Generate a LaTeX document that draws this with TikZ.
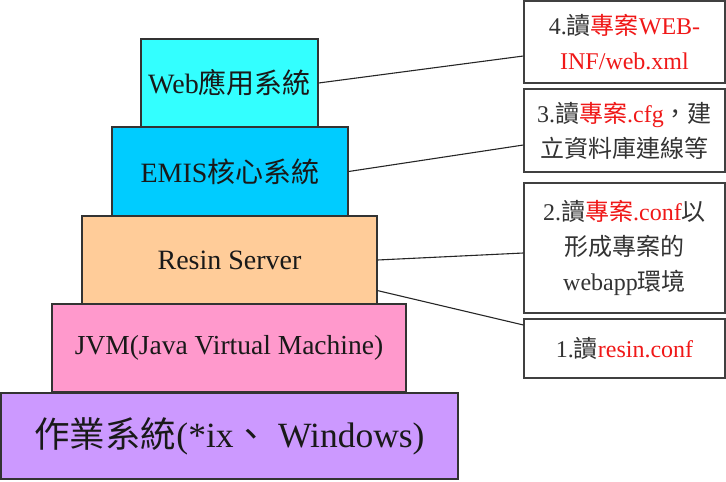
\documentclass[tikz,border=0pt]{standalone}
\usepackage{fontspec}
\setmainfont{Liberation Serif}
\newfontfamily\cjk{Noto Sans CJK TC}
\usetikzlibrary{calc}
\definecolor{webCyan}{HTML}{33FFFF}
\definecolor{emisBlue}{HTML}{00CCFF}
\definecolor{resinTan}{HTML}{FFCC99}
\definecolor{jvmPink}{HTML}{FF99CC}
\definecolor{osPurple}{HTML}{CC99FF}
\definecolor{fileRed}{HTML}{F01818}
\newcommand{\zh}[1]{{\cjk #1}}
\newcommand{\hl}[1]{\textcolor{fileRed}{#1}}
\tikzstyle{link} = [line width=1.1pt, draw=black!85]

\begin{document}
\begin{tikzpicture}[x=1pt, y=-1pt,
    layer/.style={rectangle, draw=black!80, line width=1.2pt, fill=#1, inner sep=0pt, minimum height=88pt, font=\fontsize{28}{30}\selectfont, text=black!90},
    note/.style={rectangle, draw=black!75, line width=1.2pt, fill=white, inner sep=0pt, minimum width=201pt, align=center, font=\fontsize{24}{35}\selectfont, text=black!80}]
\useasboundingbox (0,0) rectangle (726,482);

\node[layer=webCyan, minimum width=177pt] (web) at (229.5, 83) {Web\zh{應用系統}};
\node[layer=emisBlue, minimum width=236pt, minimum height=89pt] (emis) at (230, 171.5) {EMIS\zh{核心系統}};
\node[layer=resinTan, minimum width=295pt] (resin) at (229.5, 260) {Resin Server};
\node[layer=jvmPink, minimum width=354pt] (jvm) at (229, 348) {\fontsize{27.5}{30}\selectfont JVM(Java Virtual Machine)};
\node[layer=osPurple, minimum width=457pt, minimum height=86pt, font=\fontsize{35.5}{38}\selectfont] (os) at (229.5, 436) {\zh{作業系統}(*ix\zh{、} Windows)};

\node[note, minimum height=82pt] (read4) at (624.5, 42) {4.\zh{讀}\hl{\zh{專案}WEB-}\\\hl{INF/web.xml}};
\node[note, minimum height=83pt] (read3) at (624.5, 130.5) {3.\zh{讀}\hl{\zh{專案}.cfg}\zh{，建}\\\zh{立資料庫連線等}};
\node[note, minimum height=130pt] (read2) at (624.5, 248) {2.\zh{讀}\hl{\zh{專案}.conf}\zh{以}\\\zh{形成專案的}\\webapp\zh{環境}};
\node[note, minimum height=59pt] (read1) at (624.5, 348.5) {1.\zh{讀}\hl{resin.conf}};

\draw[link] (web.east) -- ([yshift=-14pt]read4.west);
\draw[link] (emis.east) -- ([yshift=-14.5pt]read3.west);
\draw[link] (resin.east) -- ([yshift=-5pt]read2.west);
\draw[link] ([yshift=14pt]resin.south east) -- ([yshift=23.5pt]read1.west);
\end{tikzpicture}
\end{document}
